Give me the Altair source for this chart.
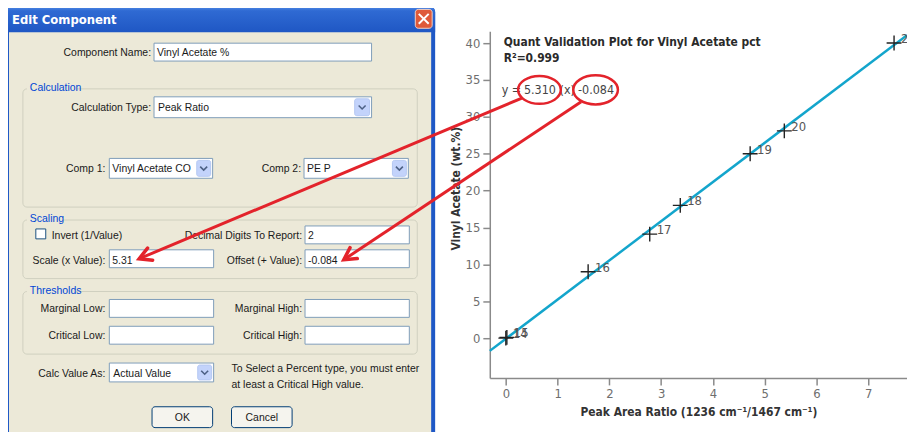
import math
import altair as alt
import pandas as pd

# ---------------- chart data ----------------
point_ids = ["14", "15", "16", "17", "18", "19", "20", "22"]
peak_ratio = [0.00, 0.02, 1.59, 2.78, 3.37, 4.72, 5.38, 7.50]
vinyl_acetate = [0.0, 0.1, 9.0, 14.1, 18.0, 25.0, 28.1, 40.0]
slope = 5.310
intercept = -0.084
r_squared = 0.999
x_ticks = [0, 1, 2, 3, 4, 5, 6, 7]
y_ticks = [0, 5, 10, 15, 20, 25, 30, 35, 40]
x_domain = [-0.31, 7.75]
y_domain = [-5.4, 41.6]

plot_title = "Quant Validation Plot for Vinyl Acetate pct"
x_title = "Peak Area Ratio (1236 cm\u207b\u00b9/1467 cm\u207b\u00b9)"
y_title = "Vinyl Acetate (wt.%)"

# ---------------- dialog texts ----------------
window_title = "Edit Component"
field_labels = ["Component Name:", "Calculation Type:", "Comp 1:", "Comp 2:",
                "Decimal Digits To Report:", "Scale (x Value):", "Offset (+ Value):",
                "Marginal Low:", "Marginal High:", "Critical Low:", "Critical High:",
                "Calc Value As:"]
field_values = ["Vinyl Acetate %", "Peak Ratio", "Vinyl Acetate CO", "PE P",
                "Invert (1/Value)", "2", "5.31", "-0.084", "Actual Value",
                "To Select a Percent type, you must enter",
                "at least a Critical High value."]
group_names = ["Calculation", "Scaling", "Thresholds"]
button_names = ["OK", "Cancel"]

# ---------------- layout (reference pixel positions) ----------------
OX, OY = 493, 30  # reference position of the plot origin
label_pos = [(152, 52), (152, 107), (106, 169), (303, 169), (304, 236), (106, 261),
             (304, 261), (106, 310), (304, 310), (106, 337), (304, 337), (106, 375)]
value_pos = [(158, 52), (159, 107), (113, 169), (309, 169), (52, 236), (310, 236),
             (113, 261), (310, 261), (114, 375), (233, 370), (233, 386)]
group_label_pos = [(30, 87), (30, 219), (30, 291)]
group_label_bg = [(27, 81, 77, 94), (27, 213, 63, 226), (27, 285, 76, 298)]
group_boxes = [(23, 88, 420, 207), (23, 220, 420, 279), (23, 292, 420, 355)]
text_boxes = [(155, 42, 374, 60), (155, 96, 374, 117), (110, 158, 214, 178),
              (306, 158, 411, 178), (307, 226, 412, 244), (110, 250, 215, 268),
              (307, 250, 412, 268), (110, 300, 215, 318), (307, 300, 412, 318),
              (110, 327, 215, 345), (307, 327, 412, 345), (110, 364, 215, 383)]
drop_buttons = [(357, 98, 372, 115), (198, 160, 212, 176), (395, 160, 409, 176),
                (199, 366, 213, 381)]
drop_chevrons = [(364.5, 106.5), (205, 168), (402, 168), (206, 373.5)]
checkbox = [(36, 229, 46, 239)]
buttons = [(153, 408, 214, 429), (233, 408, 294, 429)]
button_text_pos = [(183.5, 419), (263.5, 419)]
frame = [(5, 4, 438, 446)]
title_bar = [(5, 4, 438, 31)]
body = [(9, 31, 434, 442)]
close_btn = [(418, 8, 435, 27)]
close_x = [(426.5, 17.5)]
window_title_pos = [(12, 18.5)]

title_pos = [(507, 41), (507, 57)]
eq_left_pos = [(505, 89)]
eq_center_pos = [(543.5, 89), (571, 89), (600, 89)]
ellipse_pos = [(543, 89), (599.5, 89)]
ellipse_size = [1849, 2025]
arrow_start = [(526, 97), (585, 101)]
arrow_tip = [(140, 259), (346, 260)]

FONT_N = "Liberation Sans Narrow, DejaVu Sans Condensed, Arial Narrow, sans-serif"
FONT_UI = "Liberation Sans, Arial, sans-serif"
RED = "#e3232b"


def px(v):
    return v - OX


def py(v):
    return v - OY


def rect_layer(boxes, **mk):
    df = pd.DataFrame([{"x1": px(a), "y1": py(b), "x2": px(c), "y2": py(d)}
                       for a, b, c, d in boxes])
    return alt.Chart(df).mark_rect(**mk).encode(
        x=alt.X("x1:Q", scale=None, axis=None), x2="x2:Q",
        y=alt.Y("y1:Q", scale=None, axis=None), y2="y2:Q")


def text_layer(strings, positions, **mk):
    df = pd.DataFrame({"t": strings,
                       "x": [px(p[0]) for p in positions],
                       "y": [py(p[1]) for p in positions]})
    return alt.Chart(df).mark_text(**mk).encode(
        x=alt.X("x:Q", scale=None, axis=None),
        y=alt.Y("y:Q", scale=None, axis=None), text="t:N")


def symbol_layer(positions, sizes, angles, **mk):
    df = pd.DataFrame({"x": [px(p[0]) for p in positions],
                       "y": [py(p[1]) for p in positions],
                       "s": sizes, "a": angles})
    return alt.Chart(df).mark_point(**mk).encode(
        x=alt.X("x:Q", scale=None, axis=None),
        y=alt.Y("y:Q", scale=None, axis=None),
        size=alt.Size("s:Q", scale=None, legend=None),
        angle=alt.Angle("a:Q", scale=None))


# ---------------- dialog ----------------
title_gradient = alt.LinearGradient(
    gradient="linear", x1=0, x2=0, y1=0, y2=1,
    stops=[alt.GradientStop(color="#5b93ec", offset=0),
           alt.GradientStop(color="#2f6ad3", offset=0.2),
           alt.GradientStop(color="#1f57c4", offset=1)])

dialog = alt.layer(
    rect_layer(frame, fill="#1f58c6", cornerRadiusTopLeft=7, cornerRadiusTopRight=7),
    rect_layer(title_bar, fill=title_gradient, cornerRadiusTopLeft=7, cornerRadiusTopRight=7),
    rect_layer(body, fill="#ece9d8"),
    rect_layer(close_btn, fill="#df5a3a", stroke="#f4d2c6", strokeWidth=1, cornerRadius=3),
    symbol_layer(close_x, [100], [0], shape="M-1,-1L1,1M-1,1L1,-1", filled=False,
                 stroke="white", strokeWidth=2, opacity=1),
    text_layer([window_title], window_title_pos, align="left", baseline="middle",
               font=FONT_N, fontSize=13, fontWeight="bold", color="white"),
    rect_layer(group_boxes, fill=None, stroke="#d0d0bf", strokeWidth=1, cornerRadius=4),
    rect_layer(group_label_bg, fill="#ece9d8"),
    text_layer(group_names, group_label_pos, align="left", baseline="middle",
               font=FONT_UI, fontSize=10.5, color="#0046d5"),
    rect_layer(text_boxes, fill="white", stroke="#7f9db9", strokeWidth=1),
    rect_layer(drop_buttons, fill="#c3d3fb", stroke="#b4c8f2", strokeWidth=1, cornerRadius=2),
    symbol_layer(drop_chevrons, [49] * len(drop_chevrons), [0] * len(drop_chevrons),
                 shape="M-1,-0.5L0,0.5L1,-0.5", filled=False, stroke="#4d6185",
                 strokeWidth=1.6, opacity=1),
    rect_layer(checkbox, fill="white", stroke="#1c5180", strokeWidth=1),
    rect_layer(buttons, fill="#f5f4ee", stroke="#003c74", strokeWidth=1, cornerRadius=3),
    text_layer(field_labels, label_pos, align="right", baseline="middle",
               font=FONT_UI, fontSize=10.5, color="#1a1a1a"),
    text_layer(field_values, value_pos, align="left", baseline="middle",
               font=FONT_UI, fontSize=10.5, color="#1a1a1a"),
    text_layer(button_names, button_text_pos, align="center", baseline="middle",
               font=FONT_UI, fontSize=10.5, color="#1a1a1a"),
)

# ---------------- plot ----------------
df_pts = pd.DataFrame({"id": point_ids, "ratio": peak_ratio, "va": vinyl_acetate})
df_fit = pd.DataFrame({"ratio": x_domain,
                       "va": [slope * v + intercept for v in x_domain]})

xs = alt.Scale(domain=x_domain, nice=False, zero=False)
ys = alt.Scale(domain=y_domain, nice=False, zero=False)
axis_common = dict(grid=False, domainColor="#8a8a8a", domainWidth=1.5,
                   tickColor="#8a8a8a", tickWidth=1.5, tickSize=7,
                   labelColor="#6e6e6e", labelFont=FONT_N, labelFontSize=13,
                   labelPadding=3, titleFont=FONT_N, titleFontSize=12,
                   titleFontWeight="bold", titleColor="#333333")
x_axis = alt.Axis(values=x_ticks, title=x_title, titleY=38,
                  titleBaseline="alphabetic", **axis_common)
y_axis = alt.Axis(values=y_ticks, title=y_title, titleX=-34, titleY=158,
                  titleBaseline="middle", **axis_common)

fit_line = alt.Chart(df_fit).mark_line(color="#13a5cc", strokeWidth=2.5).encode(
    x=alt.X("ratio:Q", scale=xs, axis=x_axis),
    y=alt.Y("va:Q", scale=ys, axis=y_axis))
crosses = alt.Chart(df_pts).mark_point(
    shape="M-1,0L1,0M0,-1L0,1", size=225, filled=False, stroke="#222222",
    strokeWidth=1.4, opacity=1).encode(
    x=alt.X("ratio:Q", scale=xs), y=alt.Y("va:Q", scale=ys))
point_labels = alt.Chart(df_pts).mark_text(
    align="left", baseline="middle", dx=7, dy=-4, font=FONT_N, fontSize=13,
    color="#555555").encode(
    x=alt.X("ratio:Q", scale=xs), y=alt.Y("va:Q", scale=ys), text="id:N")

plot = alt.layer(fit_line, crosses, point_labels)

# ---------------- annotations ----------------
eq_pieces = [f"{slope:.3f}", "(x)", f"{intercept:.3f}"]
arrow_df = pd.DataFrame({"x1": [px(p[0]) for p in arrow_start],
                         "y1": [py(p[1]) for p in arrow_start],
                         "x2": [px(p[0]) for p in arrow_tip],
                         "y2": [py(p[1]) for p in arrow_tip]})
arrow_angles = [math.degrees(math.atan2(s[1] - t[1], s[0] - t[0])) % 360
                for s, t in zip(arrow_start, arrow_tip)]

overlay = alt.layer(
    text_layer([plot_title, f"R\u00b2={r_squared:.3f}"], title_pos, align="left",
               baseline="middle", font=FONT_N, fontSize=12, fontWeight="bold",
               color="#2a2a2a"),
    text_layer(["y ="], eq_left_pos, align="left", baseline="middle", font=FONT_N,
               fontSize=12.5, color="#444444"),
    text_layer(eq_pieces, eq_center_pos, align="center", baseline="middle",
               font=FONT_N, fontSize=12.5, color="#444444"),
    symbol_layer(ellipse_pos, ellipse_size, [0, 0],
                 shape="M-1,0C-1,-0.359,-0.552,-0.65,0,-0.65C0.552,-0.65,1,-0.359,1,0"
                       "C1,0.359,0.552,0.65,0,0.65C-0.552,0.65,-1,0.359,-1,0Z",
                 filled=False, stroke=RED, strokeWidth=2.5, opacity=1),
    alt.Chart(arrow_df).mark_rule(color=RED, strokeWidth=3).encode(
        x=alt.X("x1:Q", scale=None, axis=None), x2="x2:Q",
        y=alt.Y("y1:Q", scale=None, axis=None), y2="y2:Q"),
    symbol_layer(arrow_tip, [576, 576], arrow_angles,
                 shape="M1,-0.55L0,0L1,0.55", filled=False, stroke=RED,
                 strokeWidth=3.5, opacity=1, strokeCap="round", strokeJoin="miter"),
)

chart = alt.layer(dialog, plot, overlay).resolve_scale(
    x="independent", y="independent").properties(
    width=420, height=349,
    autosize=alt.AutoSizeParams(type="none"),
    padding={"left": 485, "top": 22, "right": 0, "bottom": 53},
    background="white",
).configure_view(stroke=None)

chart.save("out.html", embed_options={"renderer": "svg", "actions": False})
